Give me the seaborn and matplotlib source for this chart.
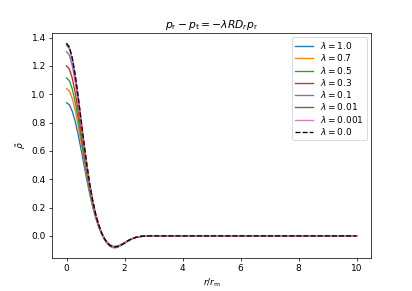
import numpy as np
import pandas as pd
import matplotlib
matplotlib.use("Agg")
import matplotlib.pyplot as plt
import seaborn as sns

# radial grid (r / r_m)
r_near = [0.0, 0.1, 0.2, 0.3, 0.4, 0.5, 0.6, 0.7, 0.8, 0.9, 1.0,
          1.1, 1.2, 1.3, 1.4, 1.5, 1.6, 1.7, 1.8, 1.9, 2.0,
          2.1, 2.2, 2.3, 2.4, 2.5, 2.6, 2.7, 2.8, 2.9, 3.0]
r_far = [3.5, 4.0, 5.0, 6.0, 7.0, 8.0, 9.0, 10.0]
rho_far = [0.0, 0.0, 0.0, 0.0, 0.0, 0.0, 0.0, 0.0]

lambdas = ["1.0", "0.7", "0.5", "0.3", "0.1", "0.01", "0.001", "0.0"]

rho_1p0 = [0.940, 0.925, 0.879, 0.809, 0.718, 0.613, 0.505, 0.397, 0.297, 0.208, 0.132,
           0.069, 0.018, -0.021, -0.054, -0.073, -0.083, -0.084, -0.077, -0.066, -0.053,
           -0.039, -0.027, -0.017, -0.010, -0.006, -0.003, -0.002, -0.001, 0.000, 0.000]
rho_0p7 = [1.040, 1.022, 0.969, 0.887, 0.782, 0.663, 0.541, 0.423, 0.314, 0.218, 0.138,
           0.073, 0.020, -0.020, -0.051, -0.071, -0.080, -0.081, -0.075, -0.064, -0.052,
           -0.038, -0.026, -0.017, -0.010, -0.006, -0.003, -0.002, -0.001, 0.000, 0.000]
rho_0p5 = [1.115, 1.095, 1.036, 0.945, 0.830, 0.701, 0.569, 0.442, 0.327, 0.226, 0.143,
           0.076, 0.022, -0.019, -0.049, -0.068, -0.078, -0.079, -0.073, -0.062, -0.050,
           -0.037, -0.026, -0.017, -0.010, -0.006, -0.003, -0.002, -0.001, 0.000, 0.000]
rho_0p3 = [1.200, 1.177, 1.112, 1.011, 0.884, 0.743, 0.600, 0.464, 0.341, 0.235, 0.148,
           0.078, 0.023, -0.018, -0.046, -0.064, -0.073, -0.074, -0.069, -0.060, -0.049,
           -0.037, -0.026, -0.017, -0.010, -0.006, -0.003, -0.002, -0.001, 0.000, 0.000]
rho_0p1 = [1.300, 1.275, 1.201, 1.089, 0.949, 0.793, 0.637, 0.490, 0.358, 0.246, 0.154,
           0.082, 0.025, -0.017, -0.048, -0.067, -0.077, -0.078, -0.072, -0.062, -0.050,
           -0.037, -0.026, -0.017, -0.010, -0.006, -0.003, -0.002, -0.001, 0.000, 0.000]
rho_0p01 = [1.348, 1.321, 1.244, 1.127, 0.979, 0.817, 0.655, 0.502, 0.366, 0.251, 0.157,
            0.084, 0.026, -0.017, -0.048, -0.067, -0.077, -0.078, -0.072, -0.062, -0.050,
            -0.037, -0.026, -0.017, -0.010, -0.006, -0.003, -0.002, -0.001, 0.000, 0.000]
rho_0p001 = [1.357, 1.330, 1.252, 1.134, 0.985, 0.821, 0.658, 0.504, 0.367, 0.252, 0.158,
             0.084, 0.026, -0.017, -0.048, -0.067, -0.077, -0.078, -0.072, -0.062, -0.050,
             -0.037, -0.026, -0.017, -0.010, -0.006, -0.003, -0.002, -0.001, 0.000, 0.000]
rho_0p0 = [1.360, 1.333, 1.255, 1.136, 0.987, 0.823, 0.659, 0.505, 0.368, 0.252, 0.158,
           0.084, 0.026, -0.017, -0.048, -0.067, -0.077, -0.078, -0.072, -0.062, -0.050,
           -0.037, -0.026, -0.017, -0.010, -0.006, -0.003, -0.002, -0.001, 0.000, 0.000]

series = [rho_1p0, rho_0p7, rho_0p5, rho_0p3, rho_0p1, rho_0p01, rho_0p001, rho_0p0]
colors = ["tab:blue", "tab:orange", "tab:green", "tab:red",
          "tab:purple", "tab:brown", "tab:pink", "black"]

# Build the long table
frames = []
for lam, vals in zip(lambdas, series):
    frames.append(pd.DataFrame({"r": r_near + r_far, "rho": vals + rho_far, "lam": lam}))
df = pd.concat(frames, ignore_index=True)

dpi = 64.375
fig = plt.figure(figsize=(412 / dpi, 291 / dpi), dpi=dpi)
ax = fig.add_axes([52 / 412, 33 / 291, 319 / 412, 225 / 291])

for lam, col in zip(lambdas, colors):
    sub = df[df["lam"] == lam]
    ls = "--" if lam == "0.0" else "-"
    sns.lineplot(data=sub, x="r", y="rho", ax=ax, color=col, linestyle=ls,
                 linewidth=1.5, label=rf"$\lambda = {lam}$", sort=False)

ax.set_title(r"$p_\mathrm{r} - p_\mathrm{t} = -\lambda R D_r p_\mathrm{r}$")
ax.set_xlabel(r"$r/r_\mathrm{m}$")
ax.set_ylabel(r"$\tilde{\rho}$")
ax.legend(loc="upper right", labelspacing=0.14, borderpad=0.3)

fig.savefig("out.png", dpi=dpi)
